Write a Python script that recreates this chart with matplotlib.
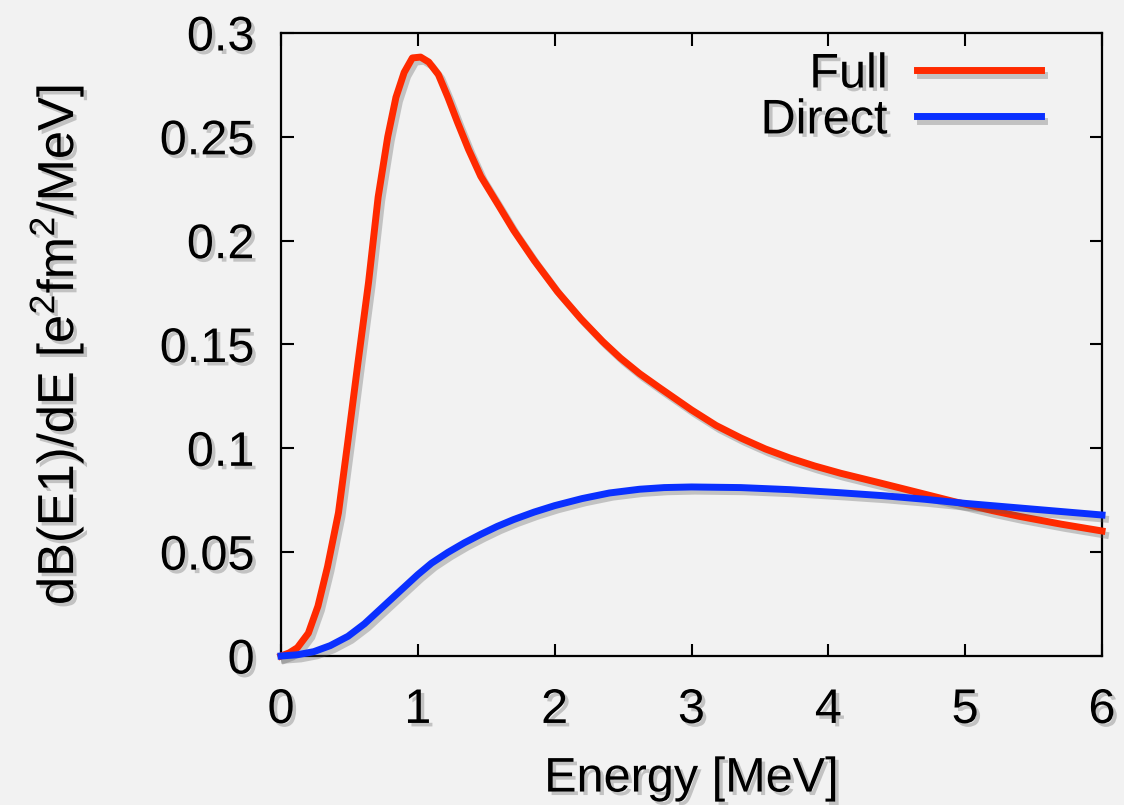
import matplotlib
matplotlib.use("Agg")
import matplotlib.pyplot as plt
import matplotlib.patheffects as pe

# ---- data ----
energy_full = [0, 0.06, 0.12, 0.2, 0.27, 0.34, 0.42, 0.49, 0.56, 0.64, 0.71, 0.78,
               0.84, 0.9, 0.96, 1.02, 1.08, 1.15, 1.22, 1.29, 1.37, 1.46, 1.59,
               1.70, 1.85, 2.02, 2.19, 2.35, 2.48, 2.62, 2.77, 3.0, 3.18, 3.36,
               3.54, 3.72, 3.9, 4.09, 4.38, 4.67, 4.91, 5.2, 5.4, 5.7, 6.0]
full = [0, 0.0015, 0.004, 0.011, 0.024, 0.043, 0.069, 0.104, 0.140, 0.180, 0.221,
        0.250, 0.269, 0.281, 0.288, 0.2884, 0.286, 0.280, 0.269, 0.257, 0.244,
        0.231, 0.217, 0.205, 0.1905, 0.1755, 0.1625, 0.1515, 0.1435, 0.136,
        0.129, 0.1185, 0.111, 0.105, 0.0997, 0.0953, 0.0915, 0.088, 0.0833,
        0.0785, 0.0745, 0.070, 0.0672, 0.0635, 0.0602]

energy_direct = [0, 0.12, 0.24, 0.36, 0.49, 0.61, 0.73, 0.85, 1.0, 1.1, 1.22,
                 1.34, 1.46, 1.58, 1.70, 1.85, 2.0, 2.2, 2.4, 2.62, 2.8, 3.0,
                 3.36, 3.72, 4.09, 4.4, 4.7, 5.0, 5.5, 6.0]
direct = [0, 0.0006, 0.0021, 0.0050, 0.0095, 0.0155, 0.0228, 0.0301, 0.0392,
          0.0447, 0.0499, 0.0545, 0.0586, 0.0624, 0.0657, 0.0693, 0.0724, 0.0758,
          0.0785, 0.0803, 0.0811, 0.0814, 0.0811, 0.0801, 0.0786, 0.0772, 0.0755,
          0.0735, 0.0707, 0.0679]

series_labels = ["Full", "Direct"]
xticks = [0, 1, 2, 3, 4, 5, 6]
yticks = [0, 0.05, 0.1, 0.15, 0.2, 0.25, 0.3]
ytick_labels = ["0", "0.05", "0.1", "0.15", "0.2", "0.25", "0.3"]
xlabel = "Energy [MeV]"
ylabel = r"dB(E1)/dE [e$^2$fm$^2$/MeV]"

# ---- style ----
plt.rcParams["font.family"] = ["Liberation Sans", "DejaVu Sans"]
plt.rcParams["mathtext.fontset"] = "custom"
plt.rcParams["mathtext.rm"] = "Liberation Sans"
plt.rcParams["mathtext.it"] = "Liberation Sans"
plt.rcParams["mathtext.default"] = "regular"

bg = "#f2f2f2"
FS = 35
text_fx = [pe.SimplePatchShadow(offset=(2.5, -2.5), shadow_rgbFace="#7a7a7a", alpha=0.4),
           pe.Normal()]
line_fx = [pe.SimpleLineShadow(offset=(2.5, -3), shadow_color="#555555", alpha=0.3),
           pe.Normal()]

fig = plt.figure(figsize=(11.24, 8.05), dpi=100, facecolor=bg)
ax = fig.add_axes([281 / 1124, 1 - 656 / 805, (1102 - 281) / 1124, (656 - 33) / 805])
ax.set_facecolor(bg)

ax.plot(energy_full, full, color="#ff2a00", lw=5, label=series_labels[0],
        path_effects=line_fx, solid_joinstyle="round", clip_on=False, zorder=3)
ax.plot(energy_direct, direct, color="#0a30ff", lw=5, label=series_labels[1],
        path_effects=line_fx, solid_joinstyle="round", clip_on=False, zorder=3)

ax.set_xlim(0, 6)
ax.set_ylim(0, 0.3)
ax.set_xticks(xticks)
ax.set_xticklabels([str(t) for t in xticks])
ax.set_yticks(yticks)
ax.set_yticklabels(ytick_labels)

ax.tick_params(direction="in", length=9, width=1.5, top=True, right=True,
               labelsize=FS, colors="black")
ax.tick_params(axis="x", pad=23)
ax.tick_params(axis="y", pad=19)
for lab in ax.get_xticklabels() + ax.get_yticklabels():
    lab.set_path_effects(text_fx)

for sp in ax.spines.values():
    sp.set_linewidth(1.6)
    sp.set_color("black")

ax.set_xlabel(xlabel, fontsize=FS, labelpad=17, path_effects=text_fx)
ax.set_ylabel(ylabel, fontsize=36.5, labelpad=53, path_effects=text_fx)

leg = ax.legend(loc="upper right", frameon=False, markerfirst=False, fontsize=FS,
                handlelength=2.55, handletextpad=0.6, labelspacing=0.02,
                borderaxespad=0.0, bbox_to_anchor=(0.949, 1.0))
for t in leg.get_texts():
    t.set_path_effects(text_fx)
for l in leg.get_lines():
    l.set_path_effects(line_fx)

fig.savefig("out.png", dpi=100, facecolor=bg)
